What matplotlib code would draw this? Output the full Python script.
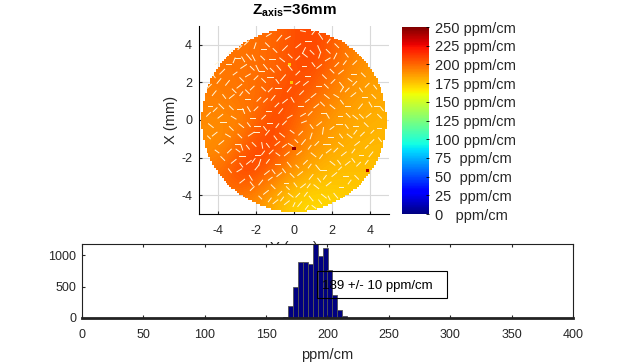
import numpy as np
import matplotlib
matplotlib.use('Agg')
import matplotlib.pyplot as plt
from matplotlib.patches import Rectangle
from matplotlib.path import Path

plt.rcParams['font.family'] = ['Liberation Sans', 'DejaVu Sans']
plt.rcParams['axes.unicode_minus'] = False
plt.rcParams['mathtext.fontset'] = 'custom'
plt.rcParams['mathtext.bf'] = 'Liberation Sans:bold'

W, H = 633, 362

# field values (ppm/cm), nodes every 1 mm, y from +5 down to -5
map_x = [-5, -4, -3, -2, -1, 0, 1, 2, 3, 4, 5]
map_y = [5, 4, 3, 2, 1, 0, -1, -2, -3, -4, -5]
map_values = [
    [196, 196, 196, 198, 201, 206, 209, 205, 196, 190, 186],
    [196, 196, 197, 198, 201, 207, 209, 204, 196, 190, 186],
    [195, 196, 197, 198, 201, 206, 207, 201, 193, 188, 186],
    [194, 195, 197, 198, 204, 207, 204, 196, 190, 186, 184],
    [193, 193, 196, 199, 206, 206, 198, 192, 187, 184, 182],
    [191, 191, 193, 202, 208, 202, 193, 188, 184, 182, 180],
    [189, 191, 197, 206, 208, 198, 190, 186, 182, 180, 179],
    [191, 193, 204, 209, 204, 194, 186, 182, 179, 178, 178],
    [196, 199, 209, 205, 196, 187, 181, 178, 177, 177, 177],
    [196, 199, 200, 195, 186, 178, 174, 174, 174, 175, 175],
    [190, 192, 192, 188, 179, 172, 170, 170, 172, 172, 172],
]
map_radius = 4.87
map_cell = 0.1

# single odd pixels on the map: x, y, value
spot_x = [0.0, 3.85, -0.25, -0.15]
spot_y = [-1.5, -2.7, 2.95, 2.0]
spot_val = [245, 240, 172, 175]

# dropped-out pixels on the map, as short runs: x0, y0, x1, y1
gaps_top_left = [
    (-1.45, 4.45, -1.2, 4.6), (-0.9, 4.2, -0.65, 4.5), (-2.0, 4.1, -2.1, 3.8), (-0.45, 4.3, -0.2, 4.45),
    (-1.75, 3.75, -1.45, 3.75), (-1.1, 3.8, -0.9, 3.6), (-3.1, 3.3, -2.85, 3.3), (-3.1, 3.3, -3.2, 3.05),
    (-2.5, 3.5, -2.25, 3.2), (-2.2, 3.45, -2.05, 3.15), (-1.3, 3.25, -1.0, 3.25), (-0.6, 3.7, -0.35, 3.95),
    (-3.6, 3.0, -3.3, 3.0), (-2.8, 2.75, -2.5, 2.95), (-2.0, 2.9, -1.85, 2.6), (-1.85, 2.6, -1.6, 2.6),
    (-1.6, 2.95, -1.4, 2.7), (-0.9, 2.9, -0.7, 2.65), (-3.9, 2.45, -3.65, 2.7), (-3.2, 2.4, -3.0, 2.55),
    (-2.55, 2.3, -2.3, 2.45), (-2.1, 2.15, -1.9, 2.35), (-1.4, 2.3, -1.1, 2.3), (-0.7, 2.1, -0.45, 2.4),
    (-4.05, 1.95, -3.85, 2.2), (-3.6, 1.85, -3.4, 2.1), (-3.0, 1.7, -2.75, 1.9), (-2.3, 1.6, -2.1, 1.8),
    (-1.7, 1.75, -1.5, 1.55), (-1.0, 1.7, -0.7, 1.7), (-0.35, 1.5, -0.15, 1.75), (-4.3, 1.3, -4.1, 1.55),
    (-3.4, 1.15, -3.15, 1.35), (-2.6, 1.1, -2.3, 1.1), (-1.95, 1.0, -1.75, 1.2), (-1.2, 1.05, -1.0, 1.3),
    (-0.6, 0.9, -0.35, 1.1), (-4.55, 0.75, -4.3, 0.75), (-3.95, 0.85, -3.7, 0.6), (-3.0, 0.6, -2.7, 0.6),
    (-2.7, 0.6, -2.6, 0.35), (-2.1, 0.5, -1.9, 0.7), (-1.45, 0.5, -1.2, 0.5), (-0.8, 0.35, -0.6, 0.6),
    (-4.6, 0.2, -4.4, 0.4), (-4.0, 0.1, -3.75, 0.3), (-3.3, 0.2, -3.05, 0.05), (-2.3, 0.1, -2.05, 0.1),
    (-1.7, 0.05, -1.5, 0.25), (-0.35, 0.1, -0.1, 0.25),
    (-2.6, 4.0, -2.4, 4.2), (-2.95, 3.75, -2.75, 3.95), (-1.5, 4.1, -1.3, 3.9), (-0.3, 3.5, -0.1, 3.3),
    (-3.45, 3.55, -3.25, 3.75), (-2.75, 3.35, -2.6, 3.1), (-1.75, 3.4, -1.55, 3.2), (-0.75, 3.3, -0.5, 3.1),
    (-4.15, 2.95, -3.95, 3.1), (-2.3, 2.85, -2.1, 2.65), (-1.25, 2.75, -1.05, 2.55), (-0.3, 2.9, -0.1, 2.65),
    (-4.3, 2.45, -4.15, 2.25), (-2.85, 2.25, -2.65, 2.05), (-1.7, 2.2, -1.5, 2.0), (-0.95, 2.15, -0.8, 1.95),
    (-4.55, 1.7, -4.35, 1.9), (-3.25, 1.65, -3.05, 1.45), (-2.55, 1.6, -2.35, 1.4), (-1.35, 1.5, -1.15, 1.7),
    (-3.75, 1.35, -3.6, 1.15), (-2.85, 1.3, -2.7, 1.5), (-1.6, 0.95, -1.4, 1.15), (-0.15, 1.2, 0.0, 0.95),
    (-4.25, 0.45, -4.05, 0.65), (-3.4, 0.75, -3.2, 0.55), (-2.45, 0.7, -2.3, 0.45), (-1.0, 0.7, -0.8, 0.9),
]
gaps_top_right = [
    (0.35, 4.75, 0.6, 4.7), (0.6, 4.2, 0.9, 4.2), (1.3, 4.6, 1.5, 4.3), (0.1, 3.85, 0.35, 4.05),
    (0.6, 3.85, 0.45, 3.55), (0.45, 3.55, 0.7, 3.35), (1.25, 3.95, 1.4, 3.6), (1.4, 3.6, 1.3, 3.3),
    (2.15, 4.05, 2.35, 3.85), (2.25, 3.55, 2.1, 3.25), (0.1, 3.2, 0.3, 3.4), (1.65, 3.15, 1.9, 3.3),
    (0.4, 2.85, 0.65, 2.85), (1.2, 2.75, 1.45, 2.95), (2.6, 2.95, 2.75, 3.15), (3.1, 2.95, 3.3, 3.15),
    (0.1, 2.4, 0.3, 2.6), (0.6, 2.35, 0.85, 2.35), (1.5, 2.4, 1.7, 2.2), (2.35, 2.45, 2.6, 2.65),
    (3.0, 2.45, 3.25, 2.45), (3.55, 2.5, 3.75, 2.3), (2.4, 2.0, 2.6, 1.75), (2.6, 1.75, 2.45, 1.5),
    (0.5, 1.85, 0.75, 2.05), (1.15, 1.8, 1.4, 1.8), (3.1, 1.85, 3.3, 2.05), (3.75, 1.75, 3.95, 1.95),
    (0.3, 1.35, 0.5, 1.55), (0.9, 1.2, 1.15, 1.4), (1.6, 1.35, 1.85, 1.15), (3.0, 1.25, 3.25, 1.45),
    (3.6, 1.2, 3.85, 1.2), (4.1, 1.35, 4.3, 1.15), (0.2, 0.75, 0.45, 0.75), (1.05, 0.65, 1.3, 0.85),
    (1.9, 0.8, 2.15, 0.6), (2.7, 0.75, 2.95, 0.75), (3.4, 0.6, 3.6, 0.85), (4.2, 0.75, 4.45, 0.75),
    (0.35, 0.2, 0.6, 0.35), (1.4, 0.35, 1.7, 0.35), (1.7, 0.35, 1.85, 0.1), (2.3, 0.2, 2.55, 0.2),
    (3.1, 0.25, 3.35, 0.05), (3.8, 0.15, 4.05, 0.35), (4.4, 0.3, 4.6, 0.1),
    (0.95, 4.55, 1.1, 4.75), (1.75, 4.1, 1.9, 4.3), (0.85, 3.7, 1.05, 3.5), (1.7, 3.75, 1.9, 3.55),
    (2.7, 3.55, 2.85, 3.35), (0.95, 3.05, 1.1, 2.85), (2.15, 2.85, 2.35, 3.05), (1.9, 2.7, 2.1, 2.5),
    (2.85, 2.2, 3.05, 2.05), (1.95, 1.95, 2.15, 2.15), (0.1, 1.9, 0.3, 2.05), (1.6, 1.9, 1.8, 1.7),
    (2.9, 1.7, 2.7, 1.5), (3.45, 1.7, 3.6, 1.5), (4.2, 1.85, 4.35, 1.65), (0.6, 0.95, 0.8, 1.1),
    (2.1, 1.35, 2.35, 1.2), (1.4, 0.95, 1.6, 0.75), (2.45, 1.05, 2.6, 0.85), (3.95, 0.95, 4.1, 0.7),
    (0.75, 0.25, 0.95, 0.45), (2.75, 0.35, 2.95, 0.15), (3.45, 0.3, 3.65, 0.1), (4.55, 0.7, 4.7, 0.5),
]
gaps_bottom_left = [
    (-4.5, -0.2, -4.25, -0.4), (-3.9, -0.1, -3.6, -0.1), (-2.9, -0.2, -2.65, -0.4), (-2.1, -0.3, -1.8, -0.3),
    (-1.4, -0.15, -1.15, -0.15), (-0.6, -0.25, -0.4, -0.05), (-4.3, -0.85, -4.05, -0.65), (-3.6, -0.75, -3.35, -0.9),
    (-2.4, -0.85, -2.1, -0.65), (-2.1, -0.65, -1.85, -0.65), (-1.5, -0.8, -1.3, -0.55), (-0.75, -0.7, -0.5, -0.9),
    (-3.95, -1.3, -3.7, -1.1), (-3.1, -1.25, -2.85, -1.25), (-2.8, -1.3, -2.7, -1.6), (-2.2, -1.2, -2.0, -1.4),
    (-1.7, -1.2, -1.65, -1.5), (-1.0, -1.35, -0.75, -1.15), (-0.3, -1.25, -0.05, -1.4), (-3.5, -1.75, -3.3, -1.55),
    (-2.9, -1.9, -2.6, -1.9), (-2.05, -1.85, -1.8, -1.85), (-1.3, -1.8, -1.1, -1.6), (-0.5, -1.9, -0.25, -1.7),
    (-3.85, -1.95, -3.65, -2.15), (-3.3, -2.3, -3.05, -2.1), (-2.5, -2.35, -2.25, -2.15), (-1.75, -2.1, -1.85, -2.4),
    (-1.85, -2.4, -2.05, -2.65), (-1.0, -2.35, -0.75, -2.35), (-0.35, -2.25, -0.15, -2.5), (-3.0, -2.75, -2.75, -2.6),
    (-2.35, -2.95, -2.2, -3.2), (-1.55, -2.9, -1.3, -2.7), (-0.9, -3.0, -0.65, -2.8), (-0.2, -2.85, 0.0, -3.05),
    (-2.85, -3.35, -2.6, -3.15), (-1.85, -3.45, -1.65, -3.2), (-1.2, -3.45, -1.0, -3.65), (-0.55, -3.35, -0.3, -3.35),
    (-2.3, -3.75, -2.1, -3.55), (-1.6, -3.95, -1.35, -3.75), (-0.85, -4.0, -0.65, -3.8), (-0.3, -3.9, -0.05, -4.1),
    (-1.1, -4.45, -0.85, -4.25), (-0.5, -4.5, -0.25, -4.3),
    (-3.4, -0.35, -3.2, -0.55), (-2.45, -0.15, -2.3, -0.35), (-1.6, -0.35, -1.45, -0.55), (-0.95, -0.4, -0.8, -0.2),
    (-0.2, -0.55, 0.0, -0.7), (-4.55, -0.85, -4.4, -1.0), (-2.95, -0.75, -2.75, -0.95), (-1.05, -0.85, -0.9, -1.05),
    (-4.15, -1.6, -3.95, -1.75), (-2.5, -1.35, -2.35, -1.55), (-1.45, -1.25, -1.3, -1.45), (-0.6, -1.45, -0.4, -1.3),
    (-3.05, -1.55, -2.85, -1.7), (-1.55, -1.65, -1.7, -1.85), (-0.95, -1.75, -0.75, -1.9), (-2.85, -2.3, -2.7, -2.5),
    (-2.2, -2.25, -2.05, -2.05), (-1.45, -2.3, -1.3, -2.1), (-0.6, -2.6, -0.45, -2.8), (-1.15, -2.65, -1.0, -2.85),
    (-3.45, -2.6, -3.3, -2.8), (-2.15, -3.5, -2.3, -3.3), (-1.35, -3.2, -1.15, -3.05), (-0.4, -3.55, -0.25, -3.7),
    (-1.85, -4.05, -1.7, -4.2), (-1.35, -4.35, -1.2, -4.15), (-0.7, -4.3, -0.55, -4.1), (-0.05, -4.6, 0.05, -4.4),
]
gaps_bottom_right = [
    (0.4, -0.15, 0.65, -0.05), (1.2, -0.3, 1.45, -0.1), (1.55, -0.4, 1.5, -0.75), (2.2, -0.2, 2.5, -0.2),
    (3.1, -0.3, 3.35, -0.3), (3.7, -0.15, 3.9, -0.35), (4.35, -0.45, 4.6, -0.45), (0.25, -0.8, 0.45, -0.6),
    (0.95, -0.7, 0.85, -1.0), (1.8, -0.9, 2.05, -0.9), (2.8, -0.75, 3.05, -0.95), (3.5, -0.85, 3.7, -0.65),
    (0.4, -1.3, 0.6, -1.05), (1.3, -1.15, 1.1, -1.35), (1.55, -1.3, 1.9, -1.3), (2.35, -1.2, 2.6, -1.4),
    (3.2, -1.35, 3.45, -1.15), (4.0, -1.25, 4.2, -1.05), (0.15, -1.85, 0.4, -1.65), (0.9, -1.75, 1.15, -1.95),
    (1.7, -1.75, 1.95, -1.55), (2.5, -1.9, 2.75, -1.7), (3.4, -1.85, 3.65, -1.85), (3.95, -1.95, 4.15, -1.7),
    (0.5, -2.35, 0.7, -2.15), (1.15, -2.4, 1.35, -2.65), (1.35, -2.65, 1.7, -2.65), (1.9, -2.2, 2.15, -2.4),
    (2.7, -2.4, 2.95, -2.2), (3.3, -2.45, 3.5, -2.25), (0.2, -2.95, 0.45, -2.75), (0.8, -3.15, 1.0, -2.9),
    (2.0, -3.0, 2.25, -2.8), (2.6, -3.0, 2.85, -3.0), (3.2, -2.95, 3.4, -3.15), (0.35, -3.6, 0.6, -3.4),
    (1.05, -3.45, 1.3, -3.65), (1.7, -3.5, 1.95, -3.3), (2.35, -3.55, 2.6, -3.55), (0.1, -4.1, 0.3, -3.9),
    (0.8, -4.05, 1.0, -4.3), (1.45, -3.95, 1.7, -4.15), (2.1, -3.9, 2.3, -4.15), (0.2, -4.6, 0.4, -4.35),
    (0.95, -4.55, 1.15, -4.7),
    (0.85, -0.25, 1.0, -0.45), (1.9, -0.5, 2.1, -0.35), (2.7, -0.25, 2.85, -0.45), (4.05, -0.7, 4.2, -0.55),
    (0.05, -1.05, 0.2, -1.2), (2.4, -0.75, 2.55, -0.95), (3.15, -0.75, 3.3, -0.55), (4.45, -0.95, 4.6, -1.15),
    (0.75, -1.55, 0.9, -1.35), (2.1, -1.7, 2.3, -1.5), (3.05, -1.75, 3.2, -1.55), (3.75, -1.5, 3.9, -1.35),
    (1.35, -2.05, 1.5, -1.85), (2.3, -2.15, 2.45, -2.35), (3.05, -2.05, 3.2, -2.25), (3.75, -2.35, 3.9, -2.15),
    (0.1, -2.4, 0.25, -2.55), (0.75, -2.55, 0.9, -2.35), (1.55, -3.15, 1.7, -2.95), (2.35, -2.65, 2.5, -2.5),
    (0.0, -3.35, 0.15, -3.55), (0.7, -3.6, 0.85, -3.4), (1.4, -3.3, 1.25, -3.1), (2.85, -3.4, 3.0, -3.2),
    (0.55, -4.05, 0.7, -3.85), (1.3, -4.25, 1.45, -4.45), (1.8, -4.05, 1.9, -4.25), (0.6, -4.75, 0.75, -4.55),
]

map_ticks = [-4, -2, 0, 2, 4]

# colour bar
cbar_ticks = [0, 25, 50, 75, 100, 125, 150, 175, 200, 225, 250]
cbar_labels = ['0   ppm/cm', '25  ppm/cm', '50  ppm/cm', '75  ppm/cm', '100 ppm/cm', '125 ppm/cm',
               '150 ppm/cm', '175 ppm/cm', '200 ppm/cm', '225 ppm/cm', '250 ppm/cm']

# histogram, bins 4 ppm/cm wide
hist_left = [164, 168, 172, 176, 180, 184, 188, 192, 196, 200, 204, 208, 212]
hist_counts = [15, 190, 500, 890, 890, 850, 1190, 985, 1115, 760, 360, 130, 35]
hist_xticks = [0, 50, 100, 150, 200, 250, 300, 350, 400]
hist_yticks = [0, 500, 1000]


def px_rect(left, top, right, bottom):
    return [left / W, 1 - bottom / H, (right - left) / W, (bottom - top) / H]


def stepped_disc(radius, cell):
    # outline of the disc on the measurement grid, so the edge stays blocky
    rows = np.arange(-radius, radius, cell)
    half = np.round(np.sqrt(np.maximum(radius ** 2 - (rows + cell / 2) ** 2, 0)) / cell) * cell
    right = [(h, y) for h, r in zip(half, rows) for y in (r, r + cell)]
    left = [(-h, y) for h, r in zip(half[::-1], rows[::-1]) for y in (r + cell, r)]
    return Path(right + left + [right[0]])


fig = plt.figure(figsize=(W / 100, H / 100), dpi=100)
text_col = '#262626'

# Map
ax = fig.add_axes(px_rect(199, 26, 389, 214))
im = ax.imshow(map_values, cmap='jet', vmin=0, vmax=250, interpolation='bicubic', zorder=2,
               extent=[map_x[0], map_x[-1], map_y[-1], map_y[0]], aspect='auto')
im.set_clip_path(stepped_disc(map_radius, map_cell), transform=ax.transData)
ax.scatter(spot_x, spot_y, c=spot_val, cmap='jet', vmin=0, vmax=250, s=5, marker='s', linewidths=0, zorder=3)
for x0, y0, x1, y1 in gaps_top_left + gaps_top_right + gaps_bottom_left + gaps_bottom_right:
    ax.plot([x0, x1], [y0, y1], color='#fff6d8', lw=0.7, zorder=4, solid_capstyle='projecting')
ax.set_xlim(-5, 5)
ax.set_ylim(-5, 5)
ax.set_xticks(map_ticks)
ax.set_yticks(map_ticks)
ax.grid(True, color='#d9d9d9', lw=0.8)
ax.set_axisbelow(True)
ax.tick_params(direction='in', length=2.5, width=0.8, labelsize=9, colors=text_col)
ax.tick_params(axis='x', pad=8)
ax.tick_params(axis='y', pad=5)
ax.spines['top'].set_visible(False)
ax.spines['right'].set_visible(False)
ax.set_ylabel('X (mm)', fontsize=10.5, color=text_col, labelpad=2)
ax.set_xlabel('Y (mm)', fontsize=10.5, color=text_col, labelpad=3)
ax.set_title(r'$\mathbf{Z_{axis}}$=36mm', fontsize=11, fontweight='bold', pad=8)

# Colour bar
cax = fig.add_axes(px_rect(402, 27, 429, 214))
cbar = fig.colorbar(im, cax=cax)
cbar.set_ticks(cbar_ticks)
cbar.set_ticklabels(cbar_labels)
cbar.outline.set_visible(False)
cax.tick_params(direction='in', length=2, width=0.6, labelsize=10.5, labelcolor=text_col, pad=4)
for lab in cax.get_yticklabels():
    lab.set_ha('left')

# Histogram
hax = fig.add_axes(px_rect(82, 244, 573, 318))
hax.set_zorder(5)
hax.set_facecolor('white')
hax.bar(hist_left, hist_counts, width=4, align='edge', color='#000080', edgecolor='#555555', lw=0.6)
hax.set_xlim(0, 400)
hax.set_ylim(0, 1175)
hax.set_xticks(hist_xticks)
hax.set_yticks(hist_yticks)
hax.tick_params(direction='in', length=2.5, width=0.8, top=True, right=False, labelsize=9, colors=text_col)
hax.tick_params(axis='x', pad=8)
hax.tick_params(axis='y', pad=4)
for side in hax.spines:
    hax.spines[side].set_color('#222222')
hax.spines['bottom'].set_linewidth(2)
hax.set_xlabel('ppm/cm', fontsize=10.5, color=text_col, labelpad=5)

# Mean +/- sd box
fig.add_artist(Rectangle((317 / W, 1 - 298 / H), 130 / W, 27 / H, transform=fig.transFigure,
                         fill=False, edgecolor='black', lw=0.8, zorder=10))
fig.text(377.5 / W, 1 - 285.5 / H, '189 +/- 10 ppm/cm', ha='center', va='center', fontsize=9.5,
         color='black', zorder=11)

fig.savefig('out.png', dpi=100)
